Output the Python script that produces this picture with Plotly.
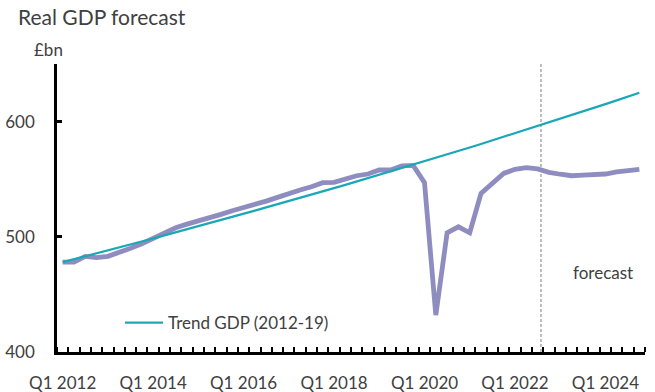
import plotly.graph_objects as go

# Quarterly categories Q1 2012 .. Q4 2024
years = list(range(2012, 2025))
quarters = [f"Q{q} {y}" for y in years for q in range(1, 5)]
x_idx = list(range(len(quarters)))

# Real GDP (actual + forecast), £bn
gdp = [478, 478, 483, 482, 483, 486, 490, 494, 498.6, 503.5,
       507.8, 511, 513.6, 516.8, 519.5, 522.6, 525.2, 528.4, 531, 534.2,
       537.7, 540.6, 543.5, 547, 547.3, 549.9, 553, 554.5, 558, 558,
       561.5, 562, 547, 432, 503.5, 508.7, 503.5, 537.7, 546.7, 555,
       558.6, 560, 558.9, 556, 554.3, 553, 553.6, 554, 554.5, 556.3,
       557.4, 558.6]

# Trend GDP (2012-19), £bn
trend = [478.0, 480.5, 483.0, 485.6, 488.1, 490.7, 493.3, 495.9, 498.5, 501.2,
         503.8, 506.5, 509.1, 511.8, 514.5, 517.2, 520.0, 522.7, 525.5, 528.2,
         531.0, 533.8, 536.6, 539.4, 542.3, 545.1, 548.0, 550.9, 553.8, 556.7,
         559.6, 562.6, 565.5, 568.5, 571.5, 574.5, 577.5, 580.6, 583.7, 586.7,
         589.8, 592.9, 596.1, 599.2, 602.4, 605.5, 608.7, 611.9, 615.2, 618.4,
         621.7, 625.0]

label_idx = [i for i, q in enumerate(quarters) if q.startswith("Q1") and int(q[-4:]) % 2 == 0]
label_text = [quarters[i] for i in label_idx]
y_ticks = [400, 500, 600]
forecast_start = 42.3
forecast_label_pos = (47.8, 469)

FONT = "Lato"
TXT = "#404040"
PURPLE = "#8F8DC0"
TEAL = "#1AA7B7"

W, H = 655, 392
L, R, T, B = 57, 10, 64, 40
PW, PH = W - L - R, H - T - B

fig = go.Figure()
fig.add_trace(go.Scatter(x=x_idx, y=gdp, mode="lines", name="Real GDP",
                         line=dict(color=PURPLE, width=4.8), showlegend=False))
fig.add_trace(go.Scatter(x=x_idx, y=trend, mode="lines", name="Trend GDP (2012-19)",
                         line=dict(color=TEAL, width=2.2)))

fig.add_shape(type="line", xref="x", yref="paper", x0=forecast_start, x1=forecast_start,
              y0=0, y1=1, line=dict(color="#9C9C9C", width=1.3, dash="3px,2px"), layer="below")

fig.add_annotation(x=forecast_label_pos[0], y=forecast_label_pos[1], xref="x", yref="y",
                   text="forecast", showarrow=False, font=dict(family=FONT, size=17, color=TXT))
fig.add_annotation(x=(32 - L) / PW, y=(H - B - 49) / PH, xref="paper", yref="paper",
                   text="£bn", showarrow=False, xanchor="left", yanchor="middle",
                   font=dict(family=FONT, size=17, color=TXT))

fig.update_layout(
    width=W, height=H,
    margin=dict(l=L, r=R, t=T, b=B, autoexpand=False),
    paper_bgcolor="white", plot_bgcolor="white",
    font=dict(family=FONT, size=17, color=TXT),
    title=dict(text="Real GDP forecast", x=18/W, xanchor="left", y=1-18/H, yanchor="middle",
               font=dict(family=FONT, size=21, color=TXT)),
    legend=dict(x=(120 - L) / PW, y=(H - B - 323) / PH, xanchor="left", yanchor="middle",
                itemwidth=38, bgcolor="rgba(0,0,0,0)",
                font=dict(family=FONT, size=17, color=TXT)),
)

fig.update_xaxes(range=[-0.5, 51.5], tickmode="array", tickvals=label_idx, ticktext=label_text,
                 ticks="", showgrid=False, zeroline=False, showline=True, linecolor="black",
                 linewidth=3, ticklabelstandoff=14, automargin=False,
                 minor=dict(tickmode="linear", tick0=-0.5, dtick=1, ticks="inside", ticklen=5,
                            tickwidth=2, tickcolor="black", showgrid=False))
fig.update_yaxes(range=[400, 650], tickmode="array", tickvals=y_ticks, ticks="inside",
                 ticklen=5, tickwidth=2.5, tickcolor="black", showgrid=False, zeroline=False,
                 showline=True, linecolor="black", linewidth=2.5, ticklabelstandoff=16,
                 automargin=False)

fig.write_html("out.html", config={"displayModeBar": False},
               post_script="document.body.style.margin='0';document.body.style.overflow='hidden';")
